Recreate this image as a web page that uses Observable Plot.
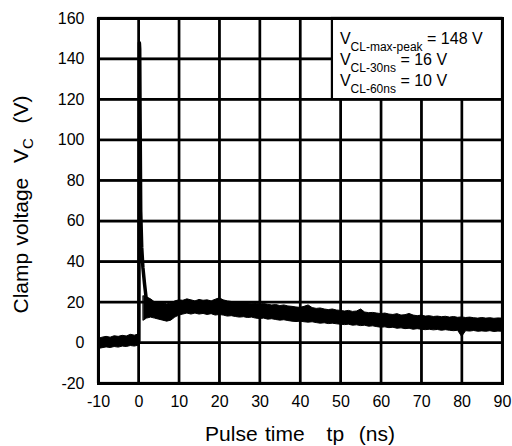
<!DOCTYPE html>
<html>
<head>
<meta charset="utf-8">
<script src="https://cdn.jsdelivr.net/npm/d3@7"></script>
<script src="https://cdn.jsdelivr.net/npm/@observablehq/plot@0.6"></script>
<style>
  html, body { margin: 0; padding: 0; background: white; }
</style>
</head>
<body>
<div id="chart"></div>
<script>
// ---- tick values / labels ----
const xTicks = [-10, 0, 10, 20, 30, 40, 50, 60, 70, 80, 90];
const xTickLabels = ["-10", "0", "10", "20", "30", "40", "50", "60", "70", "80", "90"];
const yTicks = [-20, 0, 20, 40, 60, 80, 100, 120, 140, 160];
const yTickLabels = ["-20", "0", "20", "40", "60", "80", "100", "120", "140", "160"];

// ---- waveform before the pulse (envelope of the noisy trace) ----
const tPre  = [-10, -9, -8, -7, -6, -5, -4, -3, -2, -1, 0];
const loPre = [-3.0, -2.6, -2.2, -2.5, -2.0, -2.3, -1.8, -2.0, -1.5, -1.8, -1.3];
const hiPre = [2.0, 2.6, 3.0, 2.6, 3.3, 3.0, 3.5, 3.2, 4.0, 3.6, 4.2];

// ---- clamp spike ----
const tSpike = [0, 0.05, 0.12, 0.2, 0.3, 0.45, 0.7, 1.0, 1.4, 1.8, 2.2];
const vSpike = [1, 60, 148, 145, 110, 65, 47, 37, 29, 22, 18];

// ---- waveform after the spike (envelope of the noisy trace) ----
const tPost = [1.2, 2, 3, 4, 5, 6, 7, 8, 9, 10,
  11, 12, 13, 14, 15, 16, 17, 18, 19, 20,
  21, 22, 23, 24, 25, 26, 27, 28, 29, 30,
  31, 32, 33, 34, 35, 36, 37, 38, 39, 40,
  41, 42, 43, 44, 45, 46, 47, 48, 49, 50,
  51, 52, 53, 54, 55, 56, 57, 58, 59, 60,
  61, 62, 63, 64, 65, 66, 67, 68, 69, 70,
  71, 72, 73, 74, 75, 76, 77, 78, 79, 80,
  81, 82, 83, 84, 85, 86, 87, 88, 89, 90];
const hiPost = [23, 22.5, 21.5, 20, 19.5, 19.8, 19, 19.5, 20.5, 21,
  20.8, 21.5, 21, 20.5, 21.2, 20.8, 21, 20.5, 21.3, 22,
  21, 20.5, 20.2, 20, 19.8, 20, 19.5, 19.3, 19.5, 19,
  19.2, 18.8, 18.5, 18.7, 18.2, 18.5, 18, 17.8, 17.5, 17.3,
  17.8, 18.5, 17.2, 16.8, 17, 16.5, 16.2, 16.5, 16, 15.8,
  15.5, 15.8, 15.3, 15.5, 16.5, 15, 14.7, 14.8, 14.5, 14.2,
  14.5, 14, 13.8, 14.2, 13.5, 13.7, 14.3, 13.5, 13.2, 13.5,
  13, 13.2, 12.8, 13, 12.7, 12.9, 12.5, 12.8, 12.4, 12.6,
  12.3, 12.5, 12.2, 12, 12.3, 12, 12.2, 11.9, 12.1, 12];
const loPost = [11, 12, 12.5, 12, 11.5, 11, 10.5, 11, 12.5, 13.5,
  14, 14.5, 14, 14.5, 14, 14.3, 13.8, 14.2, 13.5, 13.8,
  13.5, 13, 13.2, 12.8, 12.5, 12.7, 12.3, 12.5, 12, 11.8,
  12, 11.5, 11.7, 11.3, 11, 11.2, 10.8, 10.5, 10.3, 10.5,
  10.2, 10, 10.2, 9.8, 9.5, 9.7, 9.3, 9.5, 9.2, 9,
  8.8, 9, 8.5, 8.7, 8.3, 8.5, 8, 8.2, 7.8, 7.5,
  7.7, 7.3, 7.5, 7, 7.2, 6.8, 7, 6.5, 6.8, 6.5,
  6.3, 6.5, 6.2, 6.4, 6, 6.3, 6, 5.8, 6, 3,
  5.8, 5.6, 5.9, 5.5, 5.7, 5.5, 5.8, 5.4, 5.6, 5.5];

// ---- annotation box ----
const boxX = [47.9, 90];
const boxY = [120, 160];
const noteSubs = ["CL-max-peak", "CL-30ns", "CL-60ns"];
const noteRests = [" = 148 V", " = 16 V", " = 10 V"];

const preRows = tPre.map((t, i) => ({t, lo: loPre[i], hi: hiPre[i]}));
const postRows = tPost.map((t, i) => ({t, lo: loPost[i], hi: hiPost[i]}));
const spikeRows = tSpike.map((t, i) => ({t, v: vSpike[i]}));

const xMin = xTicks[0], xMax = xTicks[xTicks.length - 1];
const yMin = yTicks[0], yMax = yTicks[yTicks.length - 1];
// half line widths of the grid expressed in data units (about 1.1 px each)
const gx = 0.27, gy = 0.55;

const FONT = "'Liberation Sans', Arial, Helvetica, sans-serif";

const plot = Plot.plot({
  width: 512,
  height: 446,
  marginLeft: 98,
  marginRight: 10,
  marginTop: 18,
  marginBottom: 63,
  style: {fontFamily: FONT, fontSize: "16px", background: "white", color: "black"},
  x: {domain: [xMin, xMax]},
  y: {domain: [yMin, yMax]},
  marks: [
    // grid drawn as thin filled bars at the tick values
    Plot.rect(xTicks, {x1: (d) => d - gx, x2: (d) => d + gx, y1: () => yMin, y2: () => yMax, fill: "black"}),
    Plot.rect(yTicks, {x1: () => xMin, x2: () => xMax, y1: (d) => d - gy, y2: (d) => d + gy, fill: "black"}),
    Plot.ruleX(xTicks, {x: (d) => d, stroke: "black", strokeWidth: 2.2}),
    Plot.ruleY(yTicks, {y: (d) => d, stroke: "black", strokeWidth: 2.2}),
    Plot.areaY(preRows, {x: "t", y1: "lo", y2: "hi", fill: "black", stroke: "black", strokeWidth: 1}),
    Plot.areaY(postRows, {x: "t", y1: "lo", y2: "hi", fill: "black", stroke: "black", strokeWidth: 1}),
    Plot.line(spikeRows, {x: "t", y: "v", stroke: "black", strokeWidth: 3.5}),
    Plot.rect([{x1: boxX[0], x2: boxX[1], y1: boxY[0], y2: boxY[1]}],
      {x1: "x1", x2: "x2", y1: "y1", y2: "y2", fill: "white", stroke: "black", strokeWidth: 2.2}),
    Plot.frame({stroke: "black", strokeWidth: 3}),
    Plot.axisX(xTicks, {tickSize: 0, tickPadding: 12, fontSize: 16, label: null,
      tickFormat: (d) => xTickLabels[xTicks.indexOf(d)]}),
    Plot.axisY(yTicks, {tickSize: 0, tickPadding: 14, fontSize: 16, label: null,
      tickFormat: (d) => yTickLabels[yTicks.indexOf(d)]})
  ]
});

document.getElementById("chart").appendChild(plot);

const svg = d3.select(plot);
const xs = plot.scale("x");
const ys = plot.scale("y");

// x axis title
svg.append("text")
  .attr("x", (xs.apply(xMin) + xs.apply(xMax)) / 2)
  .attr("y", 441)
  .attr("text-anchor", "middle")
  .attr("font-family", FONT)
  .attr("font-size", 21)
  .attr("fill", "black")
  .attr("word-spacing", 1.5)
  .style("white-space", "pre")
  .text("Pulse time   tp  (ns)");

// y axis title
const yt = svg.append("text")
  .attr("transform", `translate(28,${(ys.apply(yMin) + ys.apply(yMax)) / 2 + 4}) rotate(-90)`)
  .attr("text-anchor", "middle")
  .attr("font-family", FONT)
  .attr("font-size", 21)
  .attr("fill", "black")
  .attr("word-spacing", 1.5)
  .style("white-space", "pre");
yt.append("tspan").text("Clamp voltage  V");
yt.append("tspan").attr("font-size", 15).attr("dy", 5).text("C");
yt.append("tspan").attr("dy", -5).text("  (V)");

// annotation text
const bx = xs.apply(boxX[0]) + 8;
const by0 = ys.apply(boxY[1]) + 26;
noteSubs.forEach((sub, i) => {
  const t = svg.append("text")
    .attr("x", bx)
    .attr("y", by0 + i * 21)
    .attr("text-anchor", "start")
    .attr("font-family", FONT)
    .attr("font-size", 16)
    .attr("fill", "black")
    .style("white-space", "pre");
  t.append("tspan").text("V");
  t.append("tspan").attr("font-size", 12).attr("dy", 6.5).text(sub);
  t.append("tspan").attr("dy", -6.5).text(noteRests[i]);
});
</script>
</body>
</html>
